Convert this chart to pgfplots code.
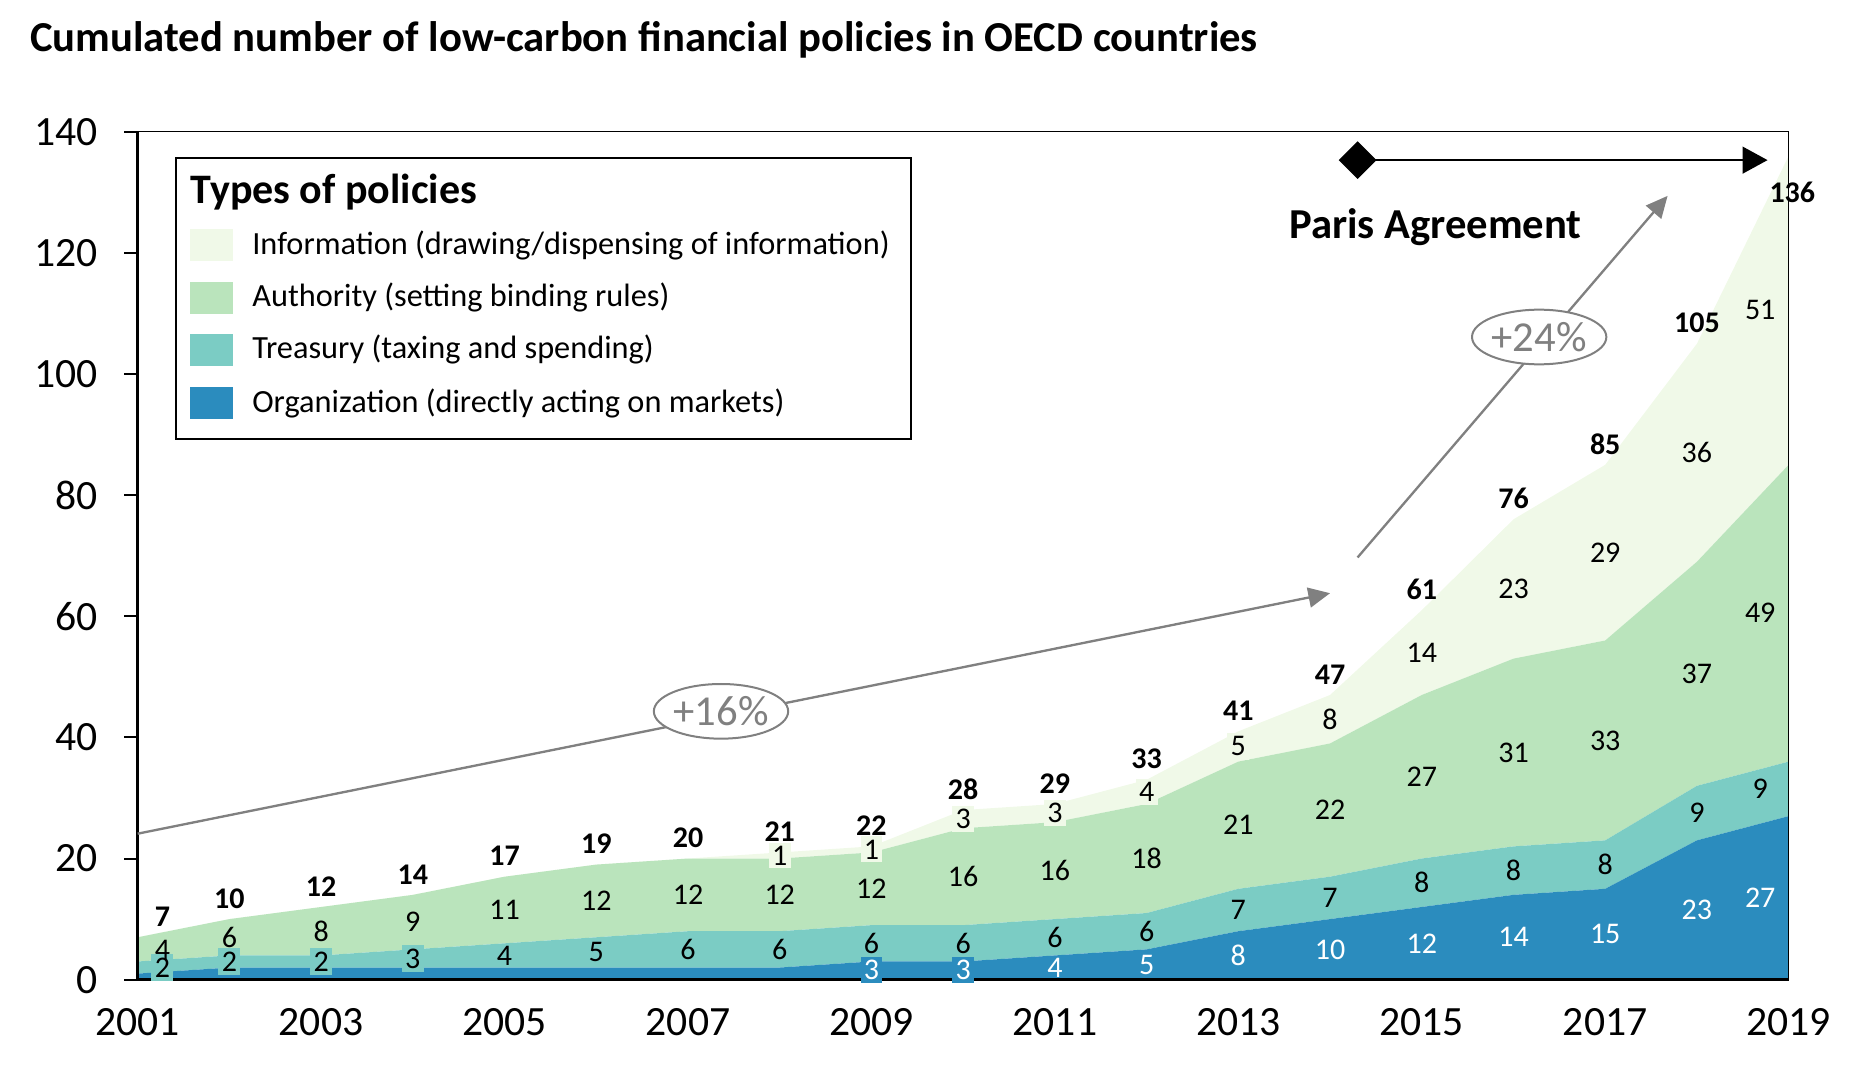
\documentclass[border=0pt]{standalone}
\usepackage{pgfplots}
\pgfplotsset{compat=1.18}
\usepackage{fontspec}
\setmainfont{Carlito}
\usetikzlibrary{arrows.meta,shapes.geometric}
\definecolor{corg}{HTML}{2B8CBE}
\definecolor{ctr}{HTML}{7BCCC4}
\definecolor{cau}{HTML}{BAE4BC}
\definecolor{cin}{HTML}{F0F9E8}
\definecolor{cgray}{HTML}{808080}
\begin{document}
\begin{tikzpicture}[
  lab/.style={font=\fontsize{9}{10}\selectfont, inner sep=1pt},
  wlab/.style={lab, text=white},
  tot/.style={font=\bfseries\fontsize{9}{10}\selectfont, inner sep=1pt}]
\useasboundingbox (-41.3pt,-27.7pt) rectangle (516.7pt,293.9pt);
\begin{axis}[at={(0pt,0pt)}, anchor=south west, scale only axis,
  width=495.3pt, height=254.4pt,
  xmin=2001, xmax=2019, ymin=0, ymax=140,
  xtick={2001,2003,...,2019}, ytick={0,20,...,140},
  /pgf/number format/1000 sep={},
  /pgf/number format/assume math mode=true,
  tick label style={font=\fontsize{12.5}{14}\selectfont},
  xticklabel style={yshift=-1pt},
  yticklabel style={xshift=-4.5pt},
  axis line style={line width=0.3pt},
  tick align=outside, ytick pos=left, xtick pos=bottom,
  xtick style={draw=none}, ytick style={line width=0.6pt, black},
  major tick length=4pt,
  stack plots=y, clip=false, axis on top]
\addplot[fill=corg, draw=none] coordinates {(2001,1) (2002,2) (2003,2) (2004,2) (2005,2) (2006,2) (2007,2) (2008,2) (2009,3) (2010,3) (2011,4) (2012,5) (2013,8) (2014,10) (2015,12) (2016,14) (2017,15) (2018,23) (2019,27)} \closedcycle;
\addplot[fill=ctr, draw=none] coordinates {(2001,2) (2002,2) (2003,2) (2004,3) (2005,4) (2006,5) (2007,6) (2008,6) (2009,6) (2010,6) (2011,6) (2012,6) (2013,7) (2014,7) (2015,8) (2016,8) (2017,8) (2018,9) (2019,9)} \closedcycle;
\addplot[fill=cau, draw=none] coordinates {(2001,4) (2002,6) (2003,8) (2004,9) (2005,11) (2006,12) (2007,12) (2008,12) (2009,12) (2010,16) (2011,16) (2012,18) (2013,21) (2014,22) (2015,27) (2016,31) (2017,33) (2018,37) (2019,49)} \closedcycle;
\addplot[fill=cin, draw=none] coordinates {(2001,0) (2002,0) (2003,0) (2004,0) (2005,0) (2006,0) (2007,0) (2008,1) (2009,1) (2010,3) (2011,3) (2012,4) (2013,5) (2014,8) (2015,14) (2016,23) (2017,29) (2018,36) (2019,51)} \closedcycle;
\addplot[stack plots=false, only marks, mark=square*, mark size=3.8pt, mark options={rotate=45, fill=black, draw=black}, forget plot] coordinates {(2014.3,135.3)};
\end{axis}
% annotations on top, in axis units (x: years after 2001, y: policies)
\begin{scope}[x=27.51667pt, y=1.817143pt]
\draw[line width=0.7pt] (0,140) -- (0,0) -- (18,0);
\draw[cgray, line width=0.7pt, -{Triangle[length=6.5pt,width=6pt]}] (0,24.1) -- (13.0,63.8);
\draw[cgray, line width=0.7pt, -{Triangle[length=6.5pt,width=6pt]}] (13.3,69.7) -- (16.68,129.4);
\node[ellipse, draw=cgray, line width=0.6pt, fill=white, minimum width=39pt, minimum height=16.4pt, inner sep=0pt, text=cgray, font=\fontsize{12.8}{14}\selectfont] at (6.36,44.3) {+16\%};
\node[ellipse, draw=cgray, line width=0.6pt, fill=white, minimum width=39pt, minimum height=16.4pt, inner sep=0pt, text=cgray, font=\fontsize{12.8}{14}\selectfont] at (15.28,106.1) {+24\%};
\draw[black, line width=0.7pt, -{Triangle[length=7.5pt,width=8pt]}] (13.3,135.3) -- (17.77,135.3);
\node[font=\bfseries\fontsize{12.8}{14}\selectfont] at (14.15,124.2) {Paris Agreement};
% organization labels
\node[wlab, fill=corg] at (8,1.6) {3};
\node[wlab, fill=corg] at (9,1.6) {3};
\node[wlab] at (10,2) {4};
\node[wlab] at (11,2.5) {5};
\node[wlab] at (12,4) {8};
\node[wlab] at (13,5) {10};
\node[wlab] at (14,6) {12};
\node[wlab] at (15,7) {14};
\node[wlab] at (16,7.5) {15};
\node[wlab] at (17,11.5) {23};
\node[wlab] at (17.69,13.5) {27};
% treasury labels
\node[lab, fill=ctr] at (0.27,2) {2};
\node[lab, fill=ctr] at (1,3) {2};
\node[lab, fill=ctr] at (2,3) {2};
\node[lab, fill=ctr] at (3,3.5) {3};
\node[lab] at (4,4) {4};
\node[lab] at (5,4.5) {5};
\node[lab] at (6,5) {6};
\node[lab] at (7,5) {6};
\node[lab] at (8,6) {6};
\node[lab] at (9,6) {6};
\node[lab] at (10,7) {6};
\node[lab] at (11,8) {6};
\node[lab] at (12,11.5) {7};
\node[lab] at (13,13.5) {7};
\node[lab] at (14,16) {8};
\node[lab] at (15,18) {8};
\node[lab] at (16,19) {8};
\node[lab] at (17,27.5) {9};
\node[lab] at (17.69,31.5) {9};
% authority labels
\node[lab] at (0.27,5) {4};
\node[lab] at (1,7) {6};
\node[lab] at (2,8) {8};
\node[lab] at (3,9.5) {9};
\node[lab] at (4,11.5) {11};
\node[lab] at (5,13) {12};
\node[lab] at (6,14) {12};
\node[lab] at (7,14) {12};
\node[lab] at (8,15) {12};
\node[lab] at (9,17) {16};
\node[lab] at (10,18) {16};
\node[lab] at (11,20) {18};
\node[lab] at (12,25.5) {21};
\node[lab] at (13,28) {22};
\node[lab] at (14,33.5) {27};
\node[lab] at (15,37.5) {31};
\node[lab] at (16,39.5) {33};
\node[lab] at (17,50.5) {37};
\node[lab] at (17.69,60.5) {49};
% information labels
\node[lab, fill=cin] at (7,20.5) {1};
\node[lab, fill=cin] at (8,21.5) {1};
\node[lab, fill=cin] at (9,26.5) {3};
\node[lab, fill=cin] at (10,27.5) {3};
\node[lab, fill=cin] at (11,31) {4};
\node[lab, fill=cin] at (12,38.5) {5};
\node[lab] at (13,43) {8};
\node[lab] at (14,54) {14};
\node[lab] at (15,64.5) {23};
\node[lab] at (16,70.5) {29};
\node[lab] at (17,87) {36};
\node[lab] at (17.69,110.5) {51};
% totals
\node[tot] at (0.27,10.4) {7};
\node[tot] at (1,13.4) {10};
\node[tot] at (2,15.4) {12};
\node[tot] at (3,17.4) {14};
\node[tot] at (4,20.4) {17};
\node[tot] at (5,22.4) {19};
\node[tot] at (6,23.4) {20};
\node[tot] at (7,24.4) {21};
\node[tot] at (8,25.4) {22};
\node[tot] at (9,31.4) {28};
\node[tot] at (10,32.4) {29};
\node[tot] at (11,36.4) {33};
\node[tot] at (12,44.4) {41};
\node[tot] at (13,50.4) {47};
\node[tot] at (14,64.4) {61};
\node[tot] at (15,79.4) {76};
\node[tot] at (16,88.4) {85};
\node[tot] at (17,108.4) {105};
\node[tot] at (18.04,130) {136};
\end{scope}
% legend
\draw[line width=0.6pt, fill=white] (11.4pt,162.2pt) rectangle (232pt,246.6pt);
\node[anchor=west, inner sep=0pt, font=\bfseries\fontsize{12.6}{14}\selectfont] at (15.7pt,236.3pt) {Types of policies};
\fill[cin] (15.7pt,215.5pt) rectangle (28.5pt,225.1pt);
\fill[cau] (15.7pt,199.8pt) rectangle (28.5pt,209.4pt);
\fill[ctr] (15.7pt,184.2pt) rectangle (28.5pt,193.8pt);
\fill[corg] (15.7pt,168.2pt) rectangle (28.5pt,177.8pt);
\node[anchor=west, inner sep=0pt, font=\fontsize{9.7}{11}\selectfont] at (34.2pt,220.3pt) {Information (drawing/dispensing of information)};
\node[anchor=west, inner sep=0pt, font=\fontsize{9.7}{11}\selectfont] at (34.2pt,204.6pt) {Authority (setting binding rules)};
\node[anchor=west, inner sep=0pt, font=\fontsize{9.7}{11}\selectfont] at (34.2pt,189.0pt) {Treasury (taxing and spending)};
\node[anchor=west, inner sep=0pt, font=\fontsize{9.7}{11}\selectfont] at (34.2pt,173.0pt) {Organization (directly acting on markets)};
% title
\node[anchor=west, inner sep=0pt, font=\bfseries\fontsize{12.8}{14}\selectfont] at (-32.4pt,281.9pt) {Cumulated number of low-carbon financial policies in OECD countries};
\end{tikzpicture}
\end{document}
